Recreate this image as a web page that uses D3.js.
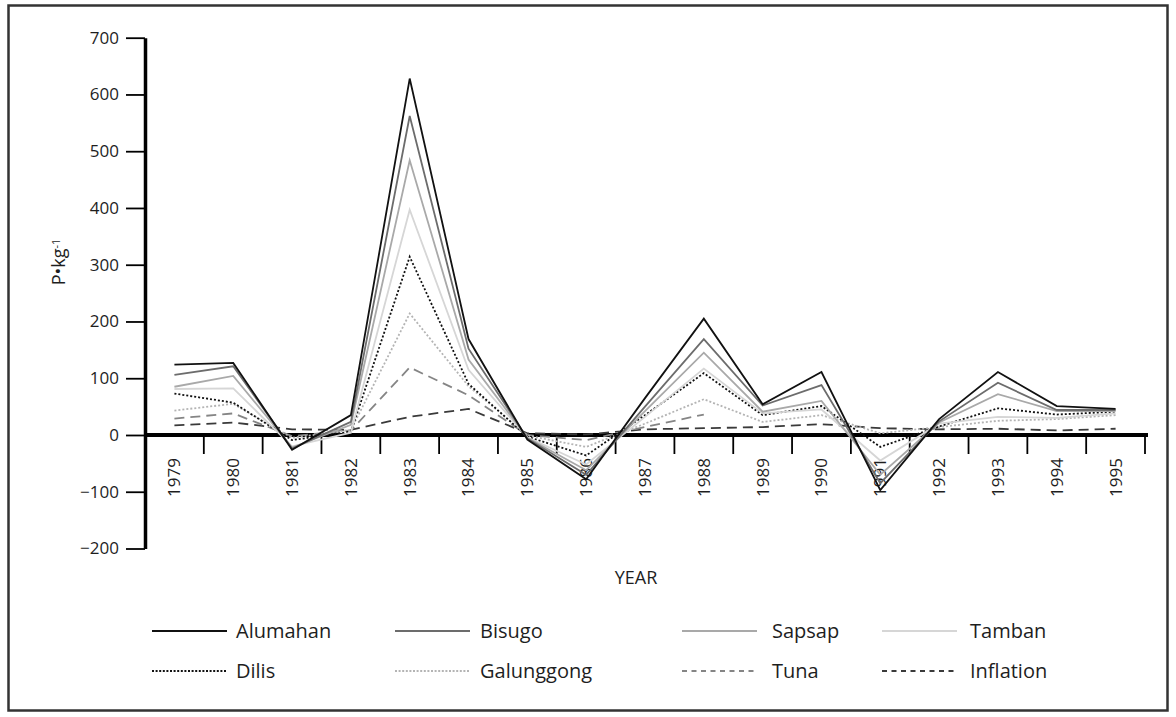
<!DOCTYPE html>
<html>
<head>
<meta charset="utf-8">
<script src="https://cdn.jsdelivr.net/npm/d3@7"></script>
<style>
  html, body { margin: 0; padding: 0; background: #fff; }
  svg { display: block; font-family: "Open Sans", "Noto Sans", sans-serif; }
</style>
</head>
<body>
<svg id="chart" width="1176" height="717"></svg>
<script>
// Years on the category axis
const years = ["1979","1980","1981","1982","1983","1984","1985","1986","1987",
               "1988","1989","1990","1991","1992","1993","1994","1995"];

// Price change per year, P per kg
const alumahan   = [124, 127, -26, 35, 628, 169, -8, -78, 65, 205, 54, 111, -97, 28, 111, 51, 46];
const bisugo     = [106, 121, -24, 23, 562, 152, -6, -70, 50, 169, 52, 88, -85, 24, 92, 44, 44];
const sapsap     = [85, 104, -22, 18, 484, 133, -5, -62, 42, 145, 41, 60, -70, 22, 72, 42, 42];
const tamban     = [81, 82, -20, 4, 397, 115, -4, -52, 32, 117, 38, 45, -45, 20, 32, 30, 38];
const dilis      = [73, 57, -9, 6, 314, 90, -3, -36, 35, 109, 35, 51, -21, 15, 47, 36, 41];
const galunggong = [43, 55, -5, 9, 214, 86, -1, -21, 20, 63, 23, 35, 3, 14, 25, 28, 35];
const tuna       = [29, 38, -2, 8, 119, 70, 0, -9, 14, 36, null, null, null, null, null, null, null];
const inflation  = [17, 22, 10, 9, 32, 46, 3, 1, 10, 12, 14, 19, 12, 10, 11, 8, 11];

const yTicks = [-200, -100, 0, 100, 200, 300, 400, 500, 600, 700];

const series = [
  { name: "Alumahan",   values: alumahan,   color: "#111111", dash: null,  legendDash: null },
  { name: "Bisugo",     values: bisugo,     color: "#6c6c6c", dash: null,  legendDash: null },
  { name: "Sapsap",     values: sapsap,     color: "#a9a9a9", dash: null,  legendDash: null },
  { name: "Tamban",     values: tamban,     color: "#d6d6d6", dash: null,  legendDash: null },
  { name: "Dilis",      values: dilis,      color: "#111111", dash: "2,2", legendDash: "2,1.6" },
  { name: "Galunggong", values: galunggong, color: "#b4b4b4", dash: "2,2", legendDash: "2,1.6" },
  { name: "Tuna",       values: tuna,       color: "#858585", dash: "10,6", legendDash: "5,4.5" },
  { name: "Inflation",  values: inflation,  color: "#3a3a3a", dash: "10,6", legendDash: "5,4.5" }
];

const svg = d3.select("#chart");

// outer frame
svg.append("rect")
  .attr("x", 8.5).attr("y", 5.5)
  .attr("width", 1159).attr("height", 705)
  .attr("fill", "none").attr("stroke", "#333").attr("stroke-width", 2.5);

const x = d3.scaleBand().domain(years).range([145, 1145]);
const y = d3.scaleLinear().domain([-200, 700]).range([548.5, 37.7]);
const bw = x.bandwidth();

// y axis
const yAxis = d3.axisLeft(y).tickValues(yTicks).tickSize(19).tickSizeOuter(0).tickPadding(7);
const gy = svg.append("g").attr("transform", "translate(145,0)").call(yAxis);
gy.select(".domain").attr("stroke", "#000").attr("stroke-width", 3.5);
gy.selectAll(".tick line").attr("stroke", "#000").attr("stroke-width", 1.8);
gy.selectAll(".tick text").attr("font-size", 17).attr("fill", "#1e1e1e")
  .attr("font-family", "Open Sans, sans-serif");

// zero line acting as the category axis
const zeroY = y(0);
svg.append("line")
  .attr("x1", 145).attr("x2", x.range()[1] + 3)
  .attr("y1", zeroY).attr("y2", zeroY)
  .attr("stroke", "#000").attr("stroke-width", 4);

// band boundary ticks hanging below the zero line
svg.append("g").selectAll("line")
  .data(years)
  .join("line")
  .attr("x1", d => x(d) + bw).attr("x2", d => x(d) + bw)
  .attr("y1", zeroY).attr("y2", zeroY + 19)
  .attr("stroke", "#000").attr("stroke-width", 1.8);

// rotated year labels
svg.append("g").selectAll("text")
  .data(years)
  .join("text")
  .attr("transform", d => `translate(${x(d) + bw / 2},${zeroY + 23}) rotate(-90)`)
  .attr("text-anchor", "end")
  .attr("dy", "0.35em")
  .attr("font-size", 17)
  .attr("fill", "#1e1e1e")
  .text(d => d);

// axis titles
svg.append("text")
  .attr("x", 636).attr("y", 584)
  .attr("text-anchor", "middle")
  .attr("font-size", 18).attr("fill", "#1e1e1e")
  .text("YEAR");

const yTitle = svg.append("text")
  .attr("transform", "translate(65,262) rotate(-90)")
  .attr("text-anchor", "middle")
  .attr("font-size", 18).attr("fill", "#1e1e1e");
yTitle.append("tspan").text("P\u2022kg");
yTitle.append("tspan").attr("dy", "-0.45em").attr("font-size", 11).text("-1");

// series lines
const line = d3.line()
  .defined(d => d != null)
  .x((d, i) => x(years[i]) + bw / 2)
  .y(d => y(d));

const drawOrder = [7, 6, 5, 4, 3, 2, 1, 0];
svg.append("g").selectAll("path")
  .data(drawOrder.map(i => series[i]))
  .join("path")
  .attr("d", s => line(s.values))
  .attr("fill", "none")
  .attr("stroke", s => s.color)
  .attr("stroke-width", 1.8)
  .attr("stroke-dasharray", s => s.dash)
  .attr("stroke-linejoin", "miter");

// legend: two rows of four
const legendCols = [
  { lx: 152, tx: 236 },
  { lx: 395, tx: 480 },
  { lx: 682, tx: 772 },
  { lx: 882, tx: 970 }
];
const legendRows = [631, 671];
const lg = svg.append("g");
series.forEach((s, i) => {
  const col = legendCols[i % 4];
  const rowY = legendRows[Math.floor(i / 4)];
  lg.append("line")
    .attr("x1", col.lx).attr("x2", col.lx + 75)
    .attr("y1", rowY).attr("y2", rowY)
    .attr("stroke", s.color).attr("stroke-width", 1.8)
    .attr("stroke-dasharray", s.legendDash);
  lg.append("text")
    .attr("x", col.tx).attr("y", rowY)
    .attr("dy", "0.35em")
    .attr("font-size", 20).attr("fill", "#1e1e1e")
    .text(s.name);
});
</script>
</body>
</html>
